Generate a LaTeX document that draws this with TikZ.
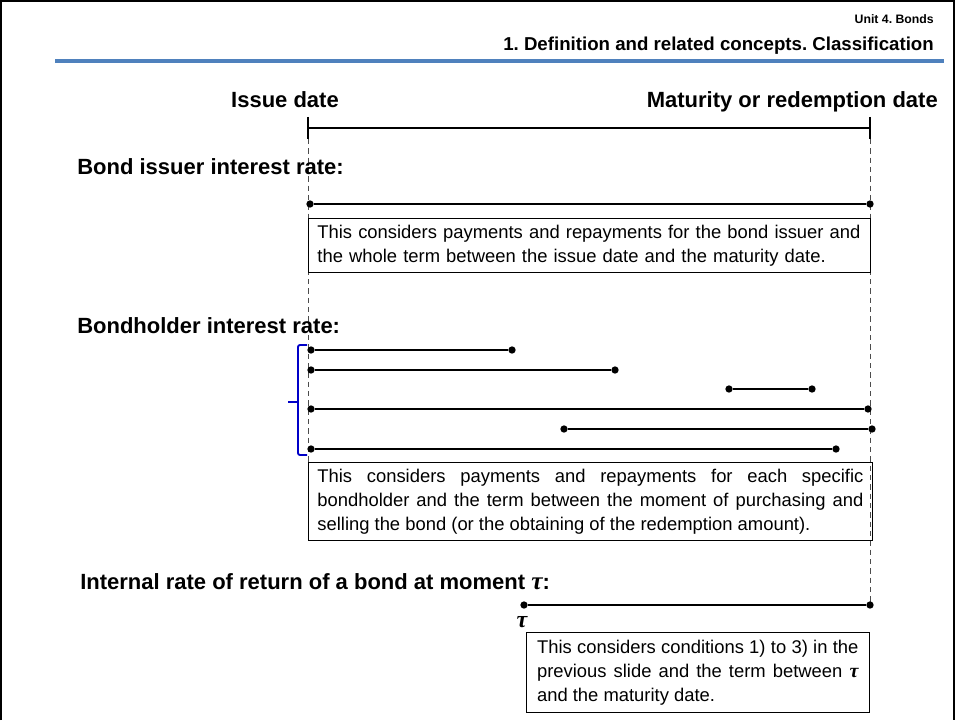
\documentclass[tikz,border=0pt]{standalone}
\usepackage{fontspec}
\setmainfont{Liberation Sans}
\newfontfamily\taufont{Liberation Serif}
\newcommand{\tauvar}{{\taufont\bfseries\itshape τ}}
\definecolor{ruleblue}{RGB}{79,129,189}
\definecolor{braceblue}{RGB}{0,0,200}
\frenchspacing

\begin{document}
\begin{tikzpicture}[x=0.75pt, y=-0.75pt,
	% Define the styles
	dot/.style={circle, fill=black, inner sep=0pt, minimum size=5.5pt},
	seg/.style={line width=2pt},
	guide/.style={black!70, line width=0.6pt, dash pattern=on 4pt off 3pt},
	note/.style={draw, line width=0.6pt, anchor=north west, inner xsep=6.75pt, inner ysep=4.5pt,
		font=\fontsize{13.8}{18}\selectfont},
	heading/.style={anchor=base west, inner sep=0pt, font=\bfseries\fontsize{16.5}{20}\selectfont}
	]
	
	\useasboundingbox (0,0) rectangle (955,720);
	
	% --- FRAME AND HEADER ---
	\draw[line width=2.2pt] (1,720) -- (1,1) -- (954,1) -- (954,720);
	\node (unit) at (934,24) [anchor=base east, inner sep=0pt, font=\bfseries\fontsize{9.2}{11}\selectfont] {Unit 4. Bonds};
	\node (sect) at (934,51) [anchor=base east, inner sep=0pt, font=\bfseries\fontsize{14}{17}\selectfont] {1. Definition and related concepts. Classification};
	\draw[ruleblue, line width=2.3pt] (55,61) -- (944,61);
	
	% --- TIME AXIS ---
	\node (issue) at (285,108) [anchor=base, inner sep=0pt, font=\bfseries\fontsize{16.5}{20}\selectfont] {Issue date};
	\node (matur) at (938,108) [anchor=base east, inner sep=0pt, font=\bfseries\fontsize{16.5}{20}\selectfont] {Maturity or redemption date};
	\coordinate (tA) at (308,117);
	\coordinate (tB) at (870,117);
	\coordinate (tA2) at (308,139);
	\coordinate (tB2) at (870,139);
	\coordinate (mA) at (308,128);
	\coordinate (mB) at (870,128);
	\draw[line width=2.2pt] (tA) -- (tA2);
	\draw[line width=2.2pt] (tB) -- (tB2);
	\draw[line width=2.2pt] (mA) -- (mB);
	
	% dashed guides down from the two dates
	\coordinate (gA) at (308,462);
	\coordinate (gB) at (870,605);
	\draw[guide] (tA2) -- (gA);
	\draw[guide] (tB2) -- (gB);
	
	% --- BOND ISSUER ---
	\node (hIss) at (77,175) [heading] {Bond issuer interest rate:};
	\node (i1) at (310,204) [dot] {};
	\node (i2) at (870,204) [dot] {};
	\draw[seg] (i1) -- (i2);
	\node (nIss) at (308,218) [note, text width=408pt, minimum height=40.5pt, align=left]
	{This considers payments and repayments for the bond issuer and\\the whole term between the issue date and the maturity date.};
	
	% --- BONDHOLDERS ---
	\node (hHold) at (77,333) [heading] {Bondholder interest rate:};
	\node (a1) at (311,350) [dot] {};
	\node (a2) at (512,350) [dot] {};
	\node (b1) at (311,370) [dot] {};
	\node (b2) at (615,370) [dot] {};
	\node (c1) at (729,389) [dot] {};
	\node (c2) at (812,389) [dot] {};
	\node (d1) at (311,409) [dot] {};
	\node (d2) at (868,409) [dot] {};
	\node (e1) at (564,429) [dot] {};
	\node (e2) at (872,429) [dot] {};
	\node (f1) at (311,449) [dot] {};
	\node (f2) at (836,449) [dot] {};
	\draw[seg] (a1) -- (a2);
	\draw[seg] (b1) -- (b2);
	\draw[seg] (c1) -- (c2);
	\draw[seg] (d1) -- (d2);
	\draw[seg] (e1) -- (e2);
	\draw[seg] (f1) -- (f2);
	% square bracket grouping the holders
	\coordinate (brT) at (307,345);
	\coordinate (brB) at (307,455);
	\coordinate (brM) at (288,402);
	\draw[braceblue, line width=1.4pt, rounded corners=1.5pt]
		(brT) -- (298,345) -- (298,455) -- (brB);
	\draw[braceblue, line width=1.4pt] (brM) -- (298,402);
	\node (nHold) at (308,462) [note, text width=409.5pt, minimum height=58.5pt, align=justify]
	{This considers payments and repayments for each specific\linebreak bondholder and the term between the moment of purchasing and\linebreak selling the bond (or the obtaining of the redemption amount).};
	
	% --- INTERNAL RATE OF RETURN ---
	\node (hIrr) at (80,589) [heading] {Internal rate of return of a bond at moment {\fontsize{19}{20}\selectfont\tauvar}:};
	\node (r1) at (524,605) [dot] {};
	\node (r2) at (870,605) [dot] {};
	\draw[seg] (r1) -- (r2);
	\node (tau) at (522,622) [inner sep=0pt, font=\fontsize{18}{20}\selectfont] {\tauvar};
	\node (nIrr) at (526,632) [note, text width=241pt, minimum height=60pt, inner xsep=8pt, align=justify]
	{This considers conditions 1) to 3) in the\linebreak previous slide and the term between {\fontsize{15}{18}\selectfont\tauvar}\linebreak and the maturity date.};
	
\end{tikzpicture}
\end{document}
